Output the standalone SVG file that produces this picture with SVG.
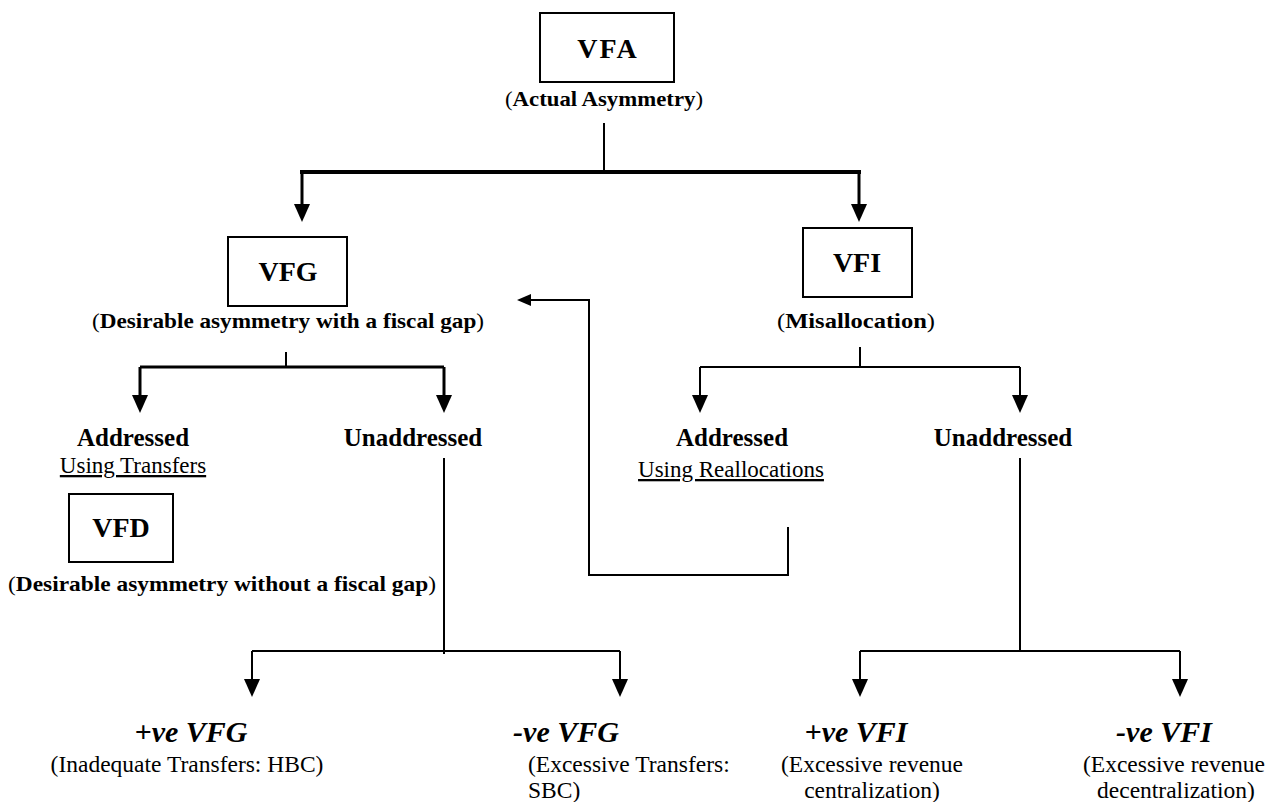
<svg xmlns="http://www.w3.org/2000/svg" width="1268" height="802" viewBox="0 0 1268 802">
<style>
  .box{fill:#fff;stroke:#000;stroke-width:2}
  .lbl{font-family:"Liberation Serif","Times New Roman",serif;font-weight:bold;font-size:28px;text-anchor:middle;fill:#000}
  .sub{font-family:"Liberation Serif","Times New Roman",serif;font-weight:bold;font-size:22px;text-anchor:middle;fill:#000}
  .par{font-weight:normal}
  .hd{font-family:"Liberation Serif","Times New Roman",serif;font-weight:bold;font-size:25px;text-anchor:middle;fill:#000}
  .ul{font-family:"Liberation Serif","Times New Roman",serif;font-size:23px;text-anchor:middle;fill:#000;text-decoration:underline}
  .res{font-family:"Liberation Serif","Times New Roman",serif;font-weight:bold;font-style:italic;font-size:30px;text-anchor:middle;fill:#000}
  .txt{font-family:"Liberation Serif","Times New Roman",serif;font-size:23.5px;text-anchor:middle;fill:#000}
  .txs{font-family:"Liberation Serif","Times New Roman",serif;font-size:23.5px;text-anchor:start;fill:#000}
  .ln{fill:none;stroke:#000;stroke-width:2}
  .thick{fill:none;stroke:#000;stroke-width:4}
  .mid{fill:none;stroke:#000;stroke-width:3}
</style>
<defs>
  <marker id="ah" markerUnits="userSpaceOnUse" markerWidth="18" markerHeight="16" refX="0" refY="8" orient="auto">
    <path d="M0,0 L18,8 L0,16 z" fill="#000"/>
  </marker>
  <marker id="ahs" markerUnits="userSpaceOnUse" markerWidth="14" markerHeight="12" refX="0" refY="6" orient="auto">
    <path d="M0,0 L14,6 L0,12 z" fill="#000"/>
  </marker>
</defs>
<rect width="1268" height="802" fill="#fff"/>
<g id="connectors">
  <path class="ln" d="M604,123 V172"/>
  <path class="thick" d="M300,172 H861"/>
  <path class="mid" d="M302,172 V204" marker-end="url(#ah)"/>
  <path class="mid" d="M859,172 V204" marker-end="url(#ah)"/>
  <path class="ln" d="M286,352 V367"/>
  <path class="mid" d="M140,367 H444"/>
  <path class="mid" d="M140,367 V395" marker-end="url(#ah)"/>
  <path class="mid" d="M444,367 V395" marker-end="url(#ah)"/>
  <path class="ln" d="M860,347 V367"/>
  <path class="ln" d="M700,367 H1020"/>
  <path class="ln" d="M700,367 V395" marker-end="url(#ah)"/>
  <path class="ln" d="M1020,367 V395" marker-end="url(#ah)"/>
  <path class="ln" d="M788,527 V575 H589 V300 H531" marker-end="url(#ahs)"/>
  <path class="ln" d="M444,458 V654"/>
  <path class="ln" d="M252,651 H620"/>
  <path class="ln" d="M252,651 V679" marker-end="url(#ah)"/>
  <path class="ln" d="M620,651 V679" marker-end="url(#ah)"/>
  <path class="ln" d="M1020,458 V651"/>
  <path class="ln" d="M860,651 H1180"/>
  <path class="ln" d="M860,651 V679" marker-end="url(#ah)"/>
  <path class="ln" d="M1180,651 V679" marker-end="url(#ah)"/>
</g>
<g id="node-vfa">
  <rect class="box" x="540" y="13" width="134" height="69"/>
  <text class="lbl" x="608" y="58" letter-spacing="2">VFA</text>
  <text class="sub" x="604" y="106" textLength="198" lengthAdjust="spacingAndGlyphs"><tspan class="par">(</tspan>Actual Asymmetry<tspan class="par">)</tspan></text>
</g>
<g id="node-vfg">
  <rect class="box" x="228" y="237" width="119" height="69"/>
  <text class="lbl" x="288" y="281">VFG</text>
  <text class="sub" x="288" y="328" textLength="392" lengthAdjust="spacingAndGlyphs"><tspan class="par">(</tspan>Desirable asymmetry with a fiscal gap<tspan class="par">)</tspan></text>
</g>
<g id="node-vfi">
  <rect class="box" x="803" y="228" width="109" height="69"/>
  <text class="lbl" x="857" y="272">VFI</text>
  <text class="sub" x="856" y="328" textLength="158" lengthAdjust="spacingAndGlyphs"><tspan class="par">(</tspan>Misallocation<tspan class="par">)</tspan></text>
</g>
<g id="node-vfg-addressed">
  <text class="hd" x="133" y="446">Addressed</text>
  <text class="ul" x="133" y="473">Using Transfers</text>
</g>
<g id="node-vfg-unaddressed">
  <text class="hd" x="413" y="446">Unaddressed</text>
</g>
<g id="node-vfi-addressed">
  <text class="hd" x="732" y="446">Addressed</text>
  <text class="ul" x="731" y="477">Using Reallocations</text>
</g>
<g id="node-vfi-unaddressed">
  <text class="hd" x="1003" y="446">Unaddressed</text>
</g>
<g id="node-vfd">
  <rect class="box" x="69" y="494" width="104" height="68"/>
  <text class="lbl" x="121" y="537">VFD</text>
  <text class="sub" x="222" y="591" textLength="428" lengthAdjust="spacingAndGlyphs"><tspan class="par">(</tspan>Desirable asymmetry without a fiscal gap<tspan class="par">)</tspan></text>
</g>
<g id="node-pos-vfg">
  <text class="res" x="191" y="742">+ve VFG</text>
  <text class="txt" x="187" y="772">(Inadequate Transfers: HBC)</text>
</g>
<g id="node-neg-vfg">
  <text class="res" x="566" y="742">-ve VFG</text>
  <text class="txs" x="528" y="772">(Excessive Transfers:</text>
  <text class="txs" x="528" y="798">SBC)</text>
</g>
<g id="node-pos-vfi">
  <text class="res" x="856" y="742">+ve VFI</text>
  <text class="txt" x="872" y="772">(Excessive revenue</text>
  <text class="txt" x="872" y="798">centralization)</text>
</g>
<g id="node-neg-vfi">
  <text class="res" x="1164" y="742">-ve VFI</text>
  <text class="txt" x="1174" y="772">(Excessive revenue</text>
  <text class="txt" x="1176" y="798">decentralization)</text>
</g>
</svg>
